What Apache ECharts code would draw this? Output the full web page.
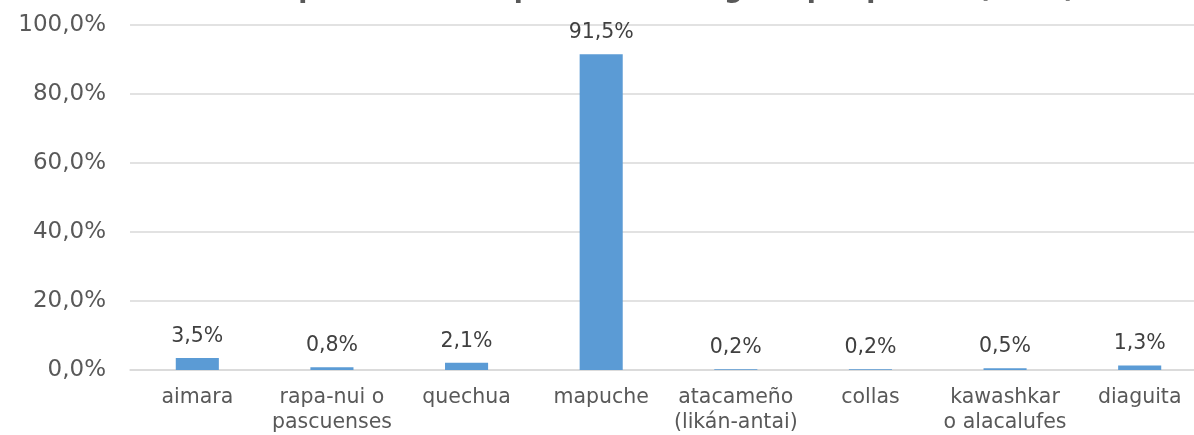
<!DOCTYPE html>
<html>
<head>
<meta charset="utf-8">
<script src="https://cdn.jsdelivr.net/npm/echarts@6/dist/echarts.min.js"></script>
<style>
html,body{margin:0;padding:0;background:#fff;}
#chart{width:1194px;height:435px;}
</style>
</head>
<body>
<div id="chart"></div>
<script>
const titleText = 'Composición de la población indígena por pueblo (2017)';
const categories = ['aimara', 'rapa-nui o\npascuenses', 'quechua', 'mapuche', 'atacameño\n(likán-antai)', 'collas', 'kawashkar\no alacalufes', 'diaguita'];
const values = [3.5, 0.8, 2.1, 91.5, 0.2, 0.2, 0.5, 1.3];
const yTicks = [0, 20, 40, 60, 80, 100];

const fmt = v => v.toFixed(1).replace('.', ',') + '%';
const font = 'DejaVu Sans, Verdana, sans-serif';

const chart = echarts.init(document.getElementById('chart'));
chart.setOption({
  animation: false,
  backgroundColor: '#ffffff',
  title: {
    text: titleText,
    left: 233,
    top: -23,
    padding: 0,
    textStyle: { fontFamily: font, fontSize: 26.5, fontWeight: 'bold', color: '#595959', lineHeight: 26.5 }
  },
  grid: { left: 130, right: -13, top: 25, bottom: 65, containLabel: false, outerBoundsMode: 'none' },
  xAxis: {
    type: 'category',
    data: categories,
    axisLine: { show: true, lineStyle: { color: '#d9d9d9', width: 1.5 } },
    axisTick: { show: false },
    axisLabel: { interval: 0, margin: 15, fontFamily: font, fontSize: 20.5, color: '#595959', lineHeight: 25, align: 'center' }
  },
  yAxis: {
    type: 'value',
    min: yTicks[0],
    max: yTicks[yTicks.length - 1],
    interval: 20,
    axisLine: { show: false },
    axisTick: { show: false },
    splitLine: { lineStyle: { color: '#d9d9d9', width: 1.5 } },
    axisLabel: { margin: 24, fontFamily: font, fontSize: 23, color: '#595959', formatter: v => fmt(v) }
  },
  series: [{
    type: 'bar',
    data: values,
    barWidth: '32%',
    itemStyle: { color: '#5b9bd5' },
    label: {
      show: true,
      position: 'top',
      distance: 11,
      fontFamily: font,
      fontSize: 20.5,
      color: '#404040',
      formatter: p => fmt(p.value)
    }
  }]
});
</script>
</body>
</html>
